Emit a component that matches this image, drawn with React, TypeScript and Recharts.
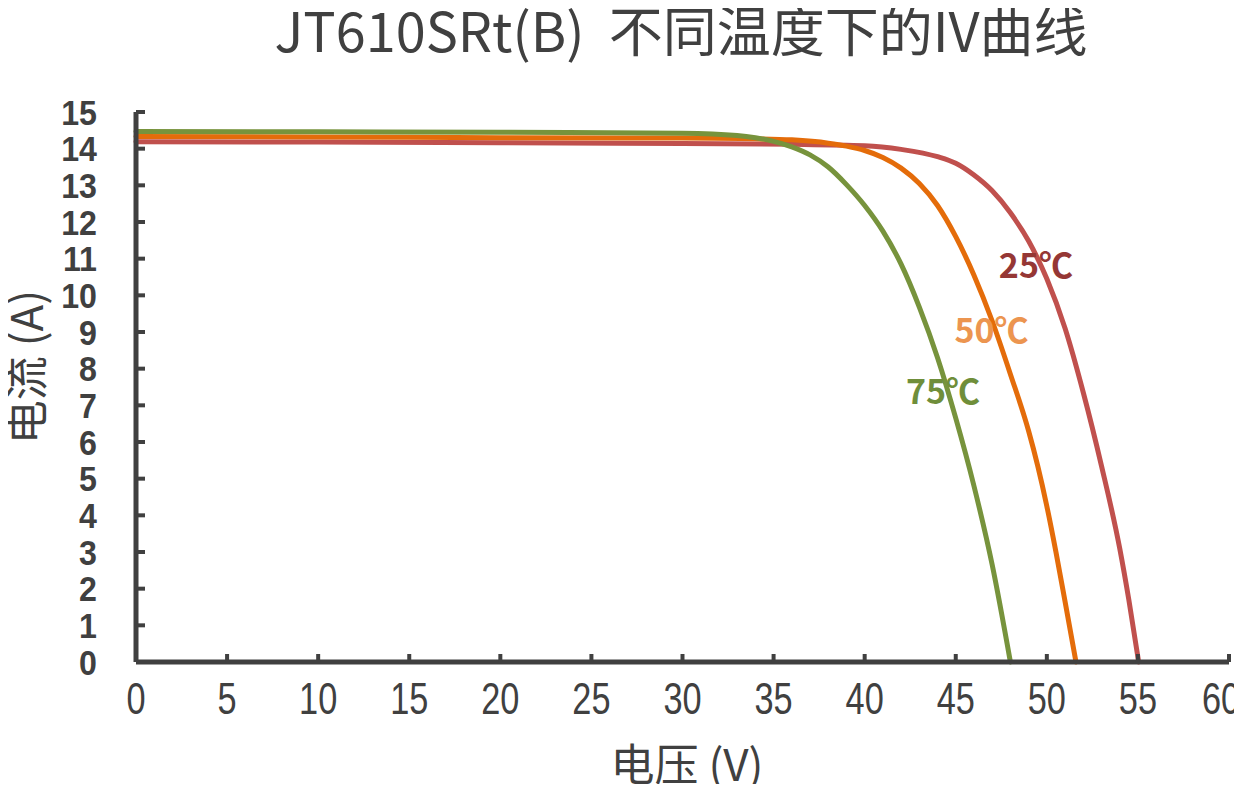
import React from 'react';
import { LineChart, Line, XAxis, YAxis, ReferenceDot } from 'recharts';

// 读图得到的 IV 曲线数据点（电压 V / 电流 A）
const voltage25 = [0, 10, 20, 30, 36, 40, 42, 44, 45, 46, 47, 48, 49, 50, 51, 52, 53, 54, 54.5, 55.04];
const current25 = [14.19, 14.18, 14.16, 14.14, 14.12, 14.08, 13.98, 13.78, 13.6, 13.28, 12.85, 12.25, 11.48, 10.45, 9.1, 7.35, 5.35, 3.1, 1.7, 0];

const voltage50 = [0, 10, 20, 30, 34, 36, 38, 39, 40, 41, 42, 43, 44, 45, 46, 47, 48, 49, 49.5, 50, 50.5, 51, 51.6];
const current50 = [14.33, 14.32, 14.3, 14.29, 14.27, 14.24, 14.15, 14.07, 13.95, 13.76, 13.47, 13.05, 12.45, 11.6, 10.55, 9.3, 7.85, 6.3, 5.35, 4.25, 3.0, 1.65, 0];

const voltage75 = [0, 10, 20, 30, 33, 34, 35, 36, 37, 38, 39, 40, 41, 42, 43, 44, 45, 46, 47, 48];
const current75 = [14.47, 14.46, 14.45, 14.42, 14.36, 14.3, 14.2, 14.05, 13.83, 13.5, 13.02, 12.45, 11.75, 10.85, 9.68, 8.3, 6.65, 4.8, 2.65, 0];

const xTicks = [0, 5, 10, 15, 20, 25, 30, 35, 40, 45, 50, 55, 60];
const yTicks = [0, 1, 2, 3, 4, 5, 6, 7, 8, 9, 10, 11, 12, 13, 14, 15];

const seriesNames = ['25℃', '50℃', '75℃'];
const lineColors = ['#C0504D', '#E46C0A', '#77933C'];
const labelColors = ['#953735', '#EC9550', '#6F8E3A'];
// 标签位置 (V, A)
const labelV = [49.4, 46.96, 44.3];
const labelI = [10.8, 9.02, 7.36];

const toPoints = (vs: number[], is: number[]) => vs.map((v, k) => ({ v, i: is[k] }));
const series = [toPoints(voltage25, current25), toPoints(voltage50, current50), toPoints(voltage75, current75)];

const INK = '#404040';
const CJK = "'Noto Sans CJK SC', sans-serif";
const NARROW = "'Liberation Sans Narrow', 'Liberation Sans', sans-serif";
const PAGE_W = 1242;

const XTick = (props: any) => {
  const { x, y, payload } = props;
  // 最右侧的 60 不要超出画面
  const cx = Math.min(x, PAGE_W - 21);
  return (
    <g transform={`translate(${cx},${y}) scale(0.78,1)`}>
      <text x={0} y={0} dy="0.71em" textAnchor="middle" fill={INK} fontSize={44} fontFamily={NARROW}>
        {payload.value}
      </text>
    </g>
  );
};

const YTick = (props: any) => {
  const { x, y, payload } = props;
  return (
    <g transform={`translate(${x},${y}) scale(0.92,1)`}>
      <text x={0} y={0} dy="0.36em" textAnchor="end" fill={INK} fontSize={35} fontWeight="bold" fontFamily={NARROW}>
        {payload.value}
      </text>
    </g>
  );
};

const App: React.FC = () => {
  return (
    <div style={{ position: 'relative', width: 1226, height: 776 }}>
      <div style={{ position: 'absolute', left: -8, top: -8 }}>
        <LineChart width={PAGE_W} height={792} data={series[0]} margin={{ top: 112, right: 13, left: 76, bottom: 90 }}>
          <XAxis
            dataKey="v" type="number" domain={[0, 60]} ticks={xTicks} interval={0}
            axisLine={{ stroke: INK, strokeWidth: 5 }} tickLine={{ stroke: INK, strokeWidth: 4 }}
            tickSize={-8} tickMargin={29} height={40} tick={<XTick />}
          />
          <XAxis xAxisId="top" orientation="top" type="number" domain={[0, 60]} height={0} tick={false} tickLine={false} axisLine={{ stroke: INK, strokeWidth: 5 }} />
          <YAxis
            type="number" domain={[0, 15]} ticks={yTicks} interval={0}
            axisLine={{ stroke: INK, strokeWidth: 5 }} tickLine={{ stroke: INK, strokeWidth: 4 }}
            tickSize={-9} tickMargin={48} width={60} tick={<YTick />}
          />
          <YAxis yAxisId="right" orientation="right" type="number" domain={[0, 15]} width={0} tick={false} tickLine={false} axisLine={{ stroke: INK, strokeWidth: 5 }} />
          {series.map((pts, k) => (
            <Line
              key={seriesNames[k]} data={pts} dataKey="i" name={seriesNames[k]} type="monotone"
              stroke={lineColors[k]} strokeWidth={5} strokeLinecap="round" dot={false} activeDot={false}
              isAnimationActive={false}
            />
          ))}
          {seriesNames.map((name, k) => (
            <ReferenceDot
              key={name} x={labelV[k]} y={labelI[k]} r={0} stroke="none" fill="none"
              label={{ value: name, position: 'center', fill: labelColors[k], fontSize: 34, fontWeight: 'bold', fontFamily: CJK }}
            />
          ))}
        </LineChart>
        <svg width={PAGE_W} height={792} style={{ position: 'absolute', left: 0, top: 0, pointerEvents: 'none' }}>
          <text x={681} y={31} dy="0.38em" textAnchor="middle" fill={INK} fontSize={54} fontFamily={CJK} style={{ whiteSpace: 'pre' }}>
            {'JT610SRt(B)  不同温度下的IV曲线'}
          </text>
          <text x={26} y={367} dy="0.38em" textAnchor="middle" fill={INK} fontSize={44} fontFamily={CJK} transform="rotate(-90 26 367)">
            电流 (A)
          </text>
          <text x={687} y={764} dy="0.38em" textAnchor="middle" fill={INK} fontSize={44} fontFamily={CJK}>
            电压 (V)
          </text>
        </svg>
      </div>
    </div>
  );
};

export default App;
